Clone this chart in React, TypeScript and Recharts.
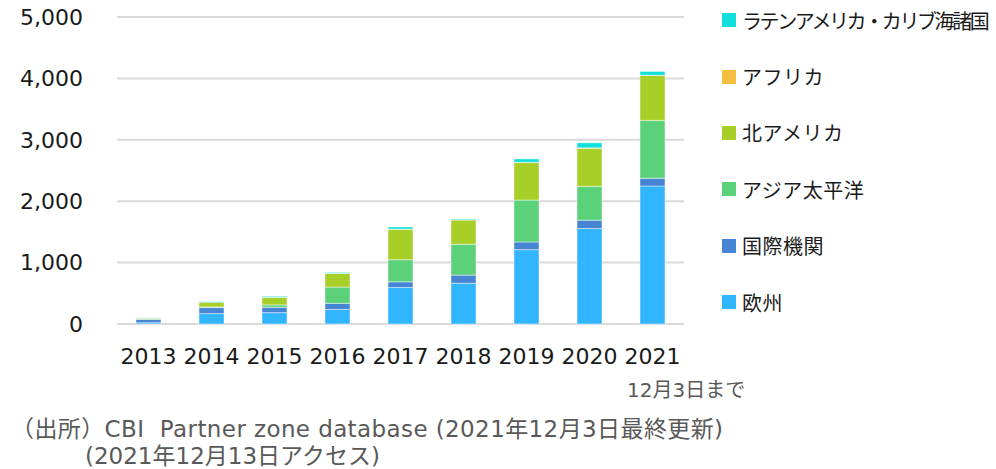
import React from "react";
import { BarChart, Bar, XAxis, YAxis, CartesianGrid } from "recharts";

const years = ["2013", "2014", "2015", "2016", "2017", "2018", "2019", "2020", "2021"];
const europe = [21, 169, 185, 237, 594, 665, 1211, 1555, 2247];
const intlOrg = [54, 98, 87, 100, 93, 131, 125, 136, 126];
const asiaPacific = [12, 11, 39, 265, 360, 502, 682, 551, 943];
const northAmerica = [11, 76, 124, 221, 496, 398, 611, 622, 731];
const africa = [0, 0, 2, 2, 3, 2, 5, 5, 5];
const latinAmerica = [4, 11, 15, 15, 35, 14, 55, 82, 61];
const yTicks = [0, 1000, 2000, 3000, 4000, 5000];

const series = [
  { key: "europe", name: "欧州", color: "#31B5FF", values: europe },
  { key: "intl", name: "国際機関", color: "#4684D4", values: intlOrg },
  { key: "asia", name: "アジア太平洋", color: "#5BD17A", values: asiaPacific },
  { key: "na", name: "北アメリカ", color: "#A8CF28", values: northAmerica },
  { key: "africa", name: "アフリカ", color: "#F5BF40", values: africa },
  { key: "latin", name: "ラテンアメリカ・カリブ海諸国", color: "#10DFDB", values: latinAmerica },
];

const data = years.map((y, i) => {
  const row: Record<string, number | string> = { year: y };
  series.forEach((s) => (row[s.key] = s.values[i]));
  return row;
});

const FONT = "'DejaVu Sans', 'Noto Sans CJK JP', sans-serif";
const CJK = "'Noto Sans CJK JP', sans-serif";

export default function App() {
  return (
    <div style={{ position: "relative", width: 996, height: 469, background: "#fff", fontFamily: FONT }}>
      <style>{`body{margin:0}`}</style>
      <BarChart
        width={996}
        height={469}
        data={data}
        margin={{ top: 17, right: 312, bottom: 105, left: 7 }}
        barCategoryGap={0}
      >
        <CartesianGrid vertical={false} stroke="#d9d9d9" strokeWidth={2} />
        <XAxis
          dataKey="year"
          axisLine={false}
          tickLine={false}
          height={40}
          tickMargin={18}
          interval={0}
          tick={{ fontSize: 22, fill: "#1a1a1a", fontFamily: FONT }}
        />
        <YAxis
          width={110}
          domain={[0, 5000]}
          ticks={yTicks}
          axisLine={false}
          tickLine={false}
          tickMargin={28}
          tickFormatter={(v: number) => v.toLocaleString("en-US")}
          tick={{ fontSize: 22, fill: "#1a1a1a", fontFamily: FONT }}
        />
        {series.map((s) => (
          <Bar
            key={s.key}
            dataKey={s.key}
            name={s.name}
            stackId="a"
            fill={s.color}
            stroke="rgba(255,255,255,0.45)"
            strokeWidth={1}
            barSize={25}
            isAnimationActive={false}
          />
        ))}
      </BarChart>
      <div style={{ position: "absolute", left: 722, top: -8, fontFamily: CJK }}>
        {[...series].reverse().map((s) => (
          <div key={s.key} style={{ display: "flex", alignItems: "center", height: 56.4 }}>
            <div style={{ width: 14, height: 14, background: s.color, marginRight: 6 }} />
            <span
              style={{
                fontSize: 20,
                color: "#1a1a1a",
                whiteSpace: "nowrap",
                letterSpacing: s.name.length > 10 ? -2.4 : 0.5,
              }}
            >
              {s.name}
            </span>
          </div>
        ))}
      </div>
      <div style={{ position: "absolute", left: 627, top: 374, fontSize: 20, color: "#595959", fontFamily: FONT }}>12月3日まで</div>
      <div
        style={{
          position: "absolute",
          left: 11,
          top: 415,
          fontSize: 23,
          lineHeight: "28px",
          letterSpacing: 0.4,
          color: "#595959",
          whiteSpace: "nowrap",
        }}
      >
        （出所）CBI&nbsp;&nbsp;Partner zone database (2021年12月3日最終更新)
      </div>
      <div
        style={{
          position: "absolute",
          left: 85,
          top: 442,
          fontSize: 23,
          lineHeight: "28px",
          color: "#595959",
          whiteSpace: "nowrap",
        }}
      >
        (2021年12月13日アクセス)
      </div>
    </div>
  );
}
